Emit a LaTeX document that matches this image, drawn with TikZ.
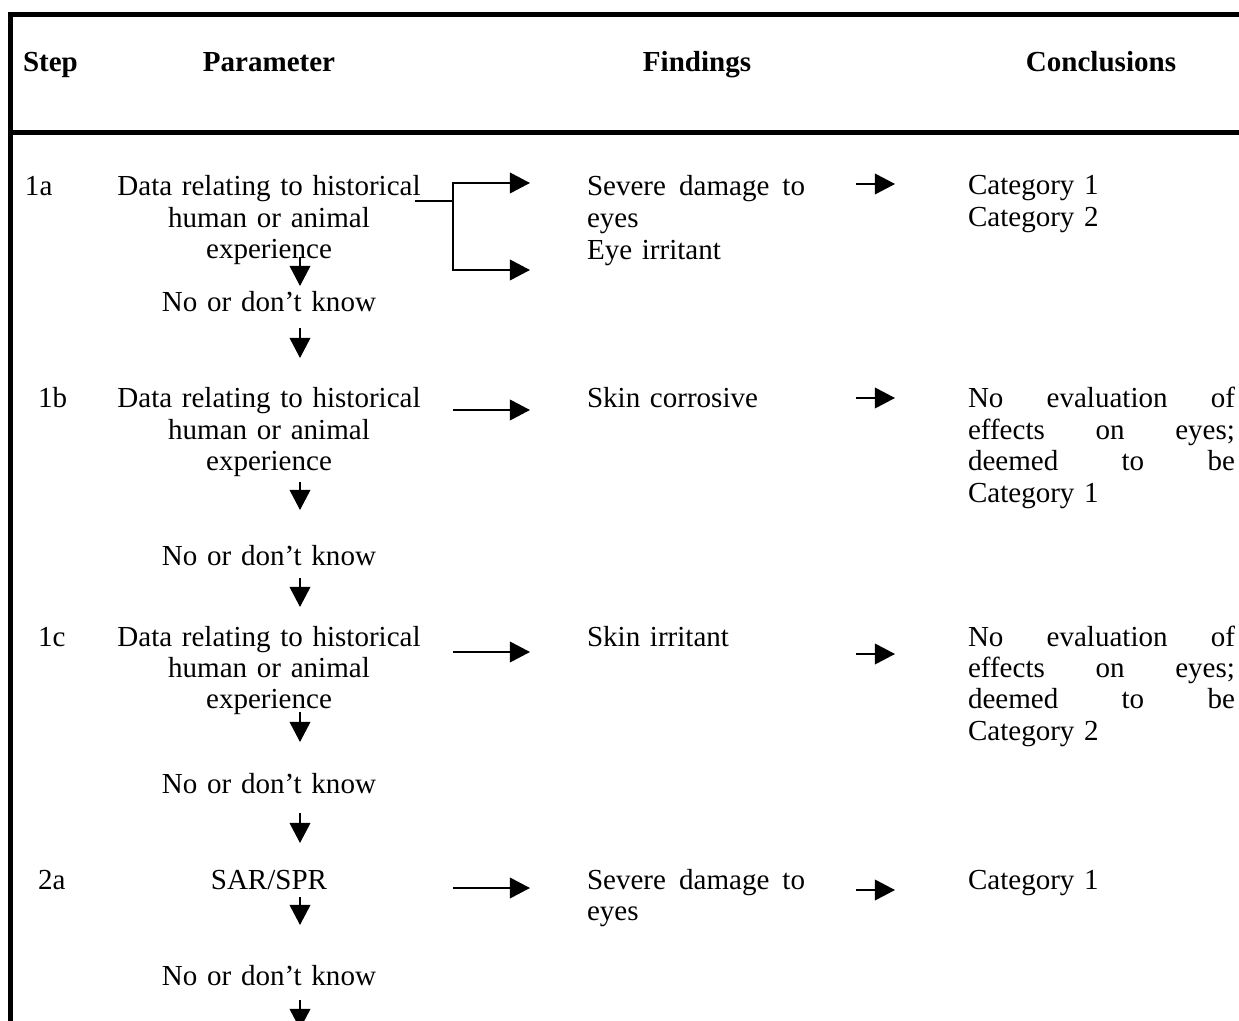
\documentclass[tikz,border=0pt]{standalone}
\usepackage{fontspec}
\setmainfont{Liberation Serif}
\usetikzlibrary{arrows.meta, calc}

\begin{document}
\begin{tikzpicture}[x=0.4132pt, y=-0.4132pt, font=\fontsize{12}{13}\selectfont,
  every node/.style={inner sep=0pt, outer sep=0pt},
  hd/.style={font=\fontsize{12}{13}\selectfont\bfseries, anchor=base},
  stp/.style={anchor=base west},
  prm/.style={anchor=base, align=center, text width=150pt},
  fnd/.style={anchor=base west, align=left, text width=90.1pt},
  ccl/.style={anchor=base west, align=left, text width=110.3pt},
  frame/.style={line width=1.9pt},
  arr/.style={-{Triangle[length=8.3pt, width=8.5pt]}, line width=0.8pt},
  line/.style={line width=0.8pt}
]
\useasboundingbox (0,0) rectangle (1239,1021);

% table frame
\draw[frame] (8,14.5) -- (1250,14.5);
\draw[frame] (10.5,12) -- (10.5,1040);
\draw[frame] (8,132.5) -- (1250,132.5);

% header
\node[hd, anchor=base west] (hstep) at (23,72) {Step};
\node[hd] (hpar) at (269,72) {Parameter};
\node[hd] (hfnd) at (697,72) {Findings};
\node[hd] (hccl) at (1101,72) {Conclusions};

% columns of the arrows
\coordinate (sp) at (300,0);
\coordinate (bx) at (453,0);
\coordinate (tx) at (530,0);
\coordinate (cx0) at (856,0);
\coordinate (cx1) at (895,0);

% step 1a
\node[stp] (s1a) at (25,196) {1a};
\node[prm] (p1a) at (269,196) {Data relating to historical\\human or animal\\experience};
\node[prm] (n1a) at (269,312) {No or don’t know};
\node[fnd] (f1a) at (587,196) {Severe\hfill damage\hfill to\\eyes};
\node[fnd] (f1a2) at (587,260) {Eye irritant};
\node[ccl] (c1a) at (968,195) {Category 1\\Category 2};

\coordinate (j) at (453,201);
\draw[line] ($(j)+(-38,0)$) -- (j);
\draw[arr] (j) |- ($(f1a.base -| tx)+(0,-13)$);
\draw[arr] (j) |- ($(f1a2.base -| tx)+(0,10)$);
\draw[arr] ($(f1a.base -| cx0)+(0,-12)$) -- ($(c1a.base -| cx1)+(0,-11)$);
\draw[arr] ($(p1a.base -| sp)+(0,61)$) -- ($(n1a.base -| sp)+(0,-26)$);

% step 1b
\node[stp] (s1b) at (38,408) {1b};
\node[prm] (p1b) at (269,408) {Data relating to historical\\human or animal\\experience};
\node[prm] (n1b) at (269,565) {No or don’t know};
\node[fnd] (f1b) at (587,408) {Skin corrosive};
\node[ccl] (c1b) at (968,408) {No\hfill evaluation\hfill of\\effects\hfill on\hfill eyes;\\deemed\hfill to\hfill be\\Category 1};

\draw[arr] ($(n1a.base -| sp)+(0,16)$) -- ($(p1b.base -| sp)+(0,-50)$);
\draw[arr] ($(p1b.base -| bx)+(0,2)$) -- ($(f1b.base -| tx)+(0,2)$);
\draw[arr] ($(f1b.base -| cx0)+(0,-10)$) -- ($(c1b.base -| cx1)+(0,-10)$);
\draw[arr] ($(p1b.base -| sp)+(0,74)$) -- ($(n1b.base -| sp)+(0,-55)$);

% step 1c
\node[stp] (s1c) at (38,646) {1c};
\node[prm] (p1c) at (269,646) {Data relating to historical\\human or animal\\experience};
\node[prm] (n1c) at (269,793) {No or don’t know};
\node[fnd] (f1c) at (587,646) {Skin irritant};
\node[ccl] (c1c) at (968,646) {No\hfill evaluation\hfill of\\effects\hfill on\hfill eyes;\\deemed\hfill to\hfill be\\Category 2};

\draw[arr] ($(n1b.base -| sp)+(0,13)$) -- ($(p1c.base -| sp)+(0,-39)$);
\draw[arr] ($(p1c.base -| bx)+(0,6)$) -- ($(f1c.base -| tx)+(0,6)$);
\draw[arr] ($(f1c.base -| cx0)+(0,8)$) -- ($(c1c.base -| cx1)+(0,8)$);
\draw[arr] ($(p1c.base -| sp)+(0,66)$) -- ($(n1c.base -| sp)+(0,-51)$);

% step 2a
\node[stp] (s2a) at (38,889) {2a};
\node[prm] (p2a) at (269,889) {SAR/SPR};
\node[prm] (n2a) at (269,985) {No or don’t know};
\node[fnd] (f2a) at (587,889) {Severe\hfill damage\hfill to\\eyes};
\node[ccl] (c2a) at (968,889) {Category 1};

\draw[arr] ($(n1c.base -| sp)+(0,20)$) -- ($(p2a.base -| sp)+(0,-46)$);
\draw[arr] ($(p2a.base -| bx)+(0,-1)$) -- ($(f2a.base -| tx)+(0,-1)$);
\draw[arr] ($(f2a.base -| cx0)+(0,1)$) -- ($(c2a.base -| cx1)+(0,1)$);
\draw[arr] ($(p2a.base -| sp)+(0,8)$) -- ($(n2a.base -| sp)+(0,-60)$);
\draw[arr] ($(n2a.base -| sp)+(0,15)$) -- ++(0,29);
\end{tikzpicture}
\end{document}
